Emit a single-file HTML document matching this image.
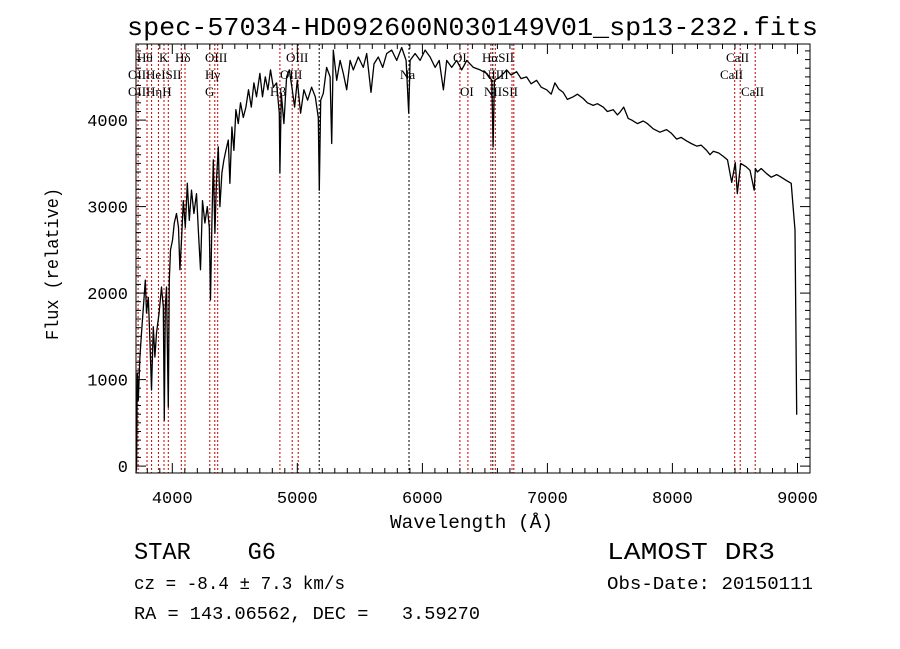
<!DOCTYPE html>
<html><head><meta charset="utf-8"><style>
html,body{margin:0;padding:0;background:#fff;}
svg{display:block;}
text{fill:#000;white-space:pre;}
.m{font-family:"Liberation Mono",monospace;}
.s{font-family:"Liberation Serif",serif;font-size:13px;}
</style></head><body>
<svg id="chart" width="900" height="649" viewBox="0 0 900 649" xmlns="http://www.w3.org/2000/svg" xml:space="preserve">
<rect width="900" height="649" fill="#fff"/>
<text class="m" x="127" y="35" font-size="26" textLength="691" lengthAdjust="spacingAndGlyphs">spec-57034-HD092600N030149V01_sp13-232.fits</text>
<g id="lines"></g>
<g id="labels" class="s">
<text x="137" y="62">Hθ</text>
<text x="159" y="62">K</text>
<text x="175" y="62">Hδ</text>
<text x="205" y="62">OIII</text>
<text x="286" y="62">OIII</text>
<text x="453" y="62">OI</text>
<text x="482" y="62">HαSII</text>
<text x="726" y="62">CaII</text>
<text x="128" y="79">OIIHeISII</text>
<text x="205" y="79">Hγ</text>
<text x="280" y="79">OIII</text>
<text x="400" y="79">Na</text>
<text x="482" y="79">NIIII</text>
<text x="720" y="79">CaII</text>
<text x="128" y="96">OIIHηH</text>
<text x="205" y="96">G</text>
<text x="270" y="96">Hβ</text>
<text x="460" y="96">OI</text>
<text x="484" y="96">NIISII</text>
<text x="741" y="96">CaII</text>
</g>
<path id="spec" fill="none" stroke="#000" stroke-width="1.3" stroke-linejoin="round"/>
<rect x="136" y="44" width="674" height="429" fill="none" stroke="#000" stroke-width="1"/>
<g id="ticks" stroke="#000" stroke-width="1"></g>
<g id="ticklabels" class="m" font-size="17"></g>
<text class="m" x="390" y="528" font-size="19" textLength="163" lengthAdjust="spacingAndGlyphs">Wavelength (Å)</text>
<text class="m" transform="translate(58,340) rotate(-90)" font-size="18" textLength="152" lengthAdjust="spacingAndGlyphs">Flux (relative)</text>
<text class="m" x="134" y="559" font-size="24" textLength="142" lengthAdjust="spacingAndGlyphs">STAR    G6</text>
<text class="m" x="607" y="559" font-size="24" textLength="168" lengthAdjust="spacingAndGlyphs">LAMOST DR3</text>
<text class="m" x="134" y="589" font-size="18" textLength="211" lengthAdjust="spacingAndGlyphs">cz = -8.4 ± 7.3 km/s</text>
<text class="m" x="607" y="589" font-size="18" textLength="206" lengthAdjust="spacingAndGlyphs">Obs-Date: 20150111</text>
<text class="m" x="134" y="619" font-size="18" textLength="346" lengthAdjust="spacingAndGlyphs">RA = 143.06562, DEC =   3.59270</text>
</svg>
<script>
const wavelengths = [3710,3715,3720,3728,3741,3754,3773,3784,3794,3808,3821,3834,3848,3861,3874,3895,3914,3928,3936,3944,3954,3968,3976,3986,4002,4016,4034,4050,4061,4074,4088,4104,4120,4136,4154,4173,4194,4210,4226,4242,4261,4280,4296,4306,4317,4328,4341,4354,4368,4381,4397,4413,4429,4448,4461,4477,4493,4509,4528,4546,4568,4589,4610,4632,4653,4674,4701,4722,4744,4765,4786,4808,4834,4856,4861,4872,4893,4914,4936,4957,4978,5000,5026,5053,5082,5114,5144,5168,5176,5187,5208,5234,5262,5275,5288,5315,5342,5368,5395,5422,5448,5488,5528,5555,5589,5613,5648,5683,5715,5755,5795,5835,5870,5891,5902,5942,5982,6022,6062,6102,6135,6168,6195,6235,6275,6315,6355,6408,6462,6515,6555,6566,6576,6621,6650,6674,6710,6754,6790,6834,6870,6914,6950,6994,7030,7060,7090,7126,7160,7206,7240,7286,7320,7366,7400,7446,7480,7526,7560,7580,7610,7646,7674,7720,7766,7800,7846,7900,7953,7990,8033,8070,8113,8150,8193,8230,8273,8300,8327,8370,8407,8440,8474,8503,8519,8546,8567,8590,8620,8654,8663,8679,8710,8754,8790,8834,8870,8914,8950,8980,8994,8998,9000];
const fluxes = [-80,0,1075,760,1260,1540,1920,2150,1770,1950,1460,880,1610,1260,1540,1770,2070,1840,530,1840,2070,680,2150,2500,2610,2810,2920,2760,2270,2610,3070,2760,3270,2840,3190,2920,3150,2690,2270,3070,2810,3000,2760,1920,2810,3540,2690,3310,3690,3000,3390,3540,3650,3770,3270,3920,3650,4120,3960,4200,4030,4150,4350,4150,4430,4270,4540,4270,4500,4350,4580,4380,4430,4080,3390,4310,3960,4500,4580,4380,4150,4460,4080,4350,4230,4380,4270,4030,3190,4230,4310,4610,4500,3730,4810,4460,4690,4540,4350,4690,4580,4730,4610,4770,4320,4650,4730,4610,4770,4810,4690,4840,4690,4080,4690,4770,4690,4810,4730,4610,4690,4350,4690,4610,4690,4580,4690,4610,4580,4540,4460,3690,4460,4500,4540,4580,4520,4560,4480,4500,4420,4460,4380,4350,4300,4430,4360,4320,4240,4270,4300,4250,4200,4170,4190,4150,4100,4120,4060,4090,4150,4020,4000,3960,3990,3960,3900,3860,3890,3850,3780,3800,3760,3730,3700,3710,3650,3600,3640,3620,3580,3540,3280,3510,3150,3500,3480,3460,3420,3190,3440,3400,3440,3380,3340,3370,3340,3300,3270,2730,600,600];
const redLines = [3727,3798,3835,3889,3934,3968,4072,4102,4300,4340,4363,4861,4959,5007,6300,6364,6548,6583,6717,6731,8498,8542,8662];
const blackLines = [5175,5893,6563];
const xTicks = [4000,5000,6000,7000,8000,9000];
const yTicks = [0,1000,2000,3000,4000];
const XMIN=3710, XMAX=9100, YMIN=-80, YMAX=4880;
const L=136,R=810,T=44,B=473;
const NS='http://www.w3.org/2000/svg';
function sx(w){return L+(w-XMIN)/(XMAX-XMIN)*(R-L);}
function sy(f){return B-(f-YMIN)/(YMAX-YMIN)*(B-T);}
let d='';
for(let i=0;i<wavelengths.length;i++){d+=(i?'L':'M')+sx(wavelengths[i]).toFixed(1)+','+sy(Math.max(YMIN,fluxes[i])).toFixed(1);}
document.getElementById('spec').setAttribute('d',d);
const lg=document.getElementById('lines');
function vline(w,c){const l=document.createElementNS(NS,'line');const x=sx(w).toFixed(1);
l.setAttribute('x1',x);l.setAttribute('x2',x);l.setAttribute('y1',T);l.setAttribute('y2',B);
l.setAttribute('stroke',c);l.setAttribute('stroke-width','1');l.setAttribute('stroke-dasharray','2,2');


lg.appendChild(l);}
redLines.forEach(w=>vline(w,'#c00000'));
blackLines.forEach(w=>vline(w,'#000'));
const tg=document.getElementById('ticks'), tl=document.getElementById('ticklabels');
function tick(x1,y1,x2,y2){const l=document.createElementNS(NS,'line');l.setAttribute('x1',x1);l.setAttribute('y1',y1);l.setAttribute('x2',x2);l.setAttribute('y2',y2);


tg.appendChild(l);}
for(let w=3800;w<=9100;w+=100){const x=sx(w).toFixed(1);const major=w%1000===0;const len=major?10:5;tick(x,B,x,B-len);tick(x,T,x,T+len);}
for(let f=0;f<=4800;f+=100){const y=sy(f).toFixed(1);const major=f%1000===0;const len=major?10:5;tick(L,y,L+len,y);tick(R,y,R-len,y);}
xTicks.forEach(w=>{const t=document.createElementNS(NS,'text');t.setAttribute('x',sx(w));t.setAttribute('y',503);t.setAttribute('text-anchor','middle');t.textContent=w;


tl.appendChild(t);});
yTicks.forEach(f=>{const t=document.createElementNS(NS,'text');t.setAttribute('x',128);t.setAttribute('y',sy(f)+6);t.setAttribute('text-anchor','end');t.textContent=f;


tl.appendChild(t);});
</script>
</body></html>
